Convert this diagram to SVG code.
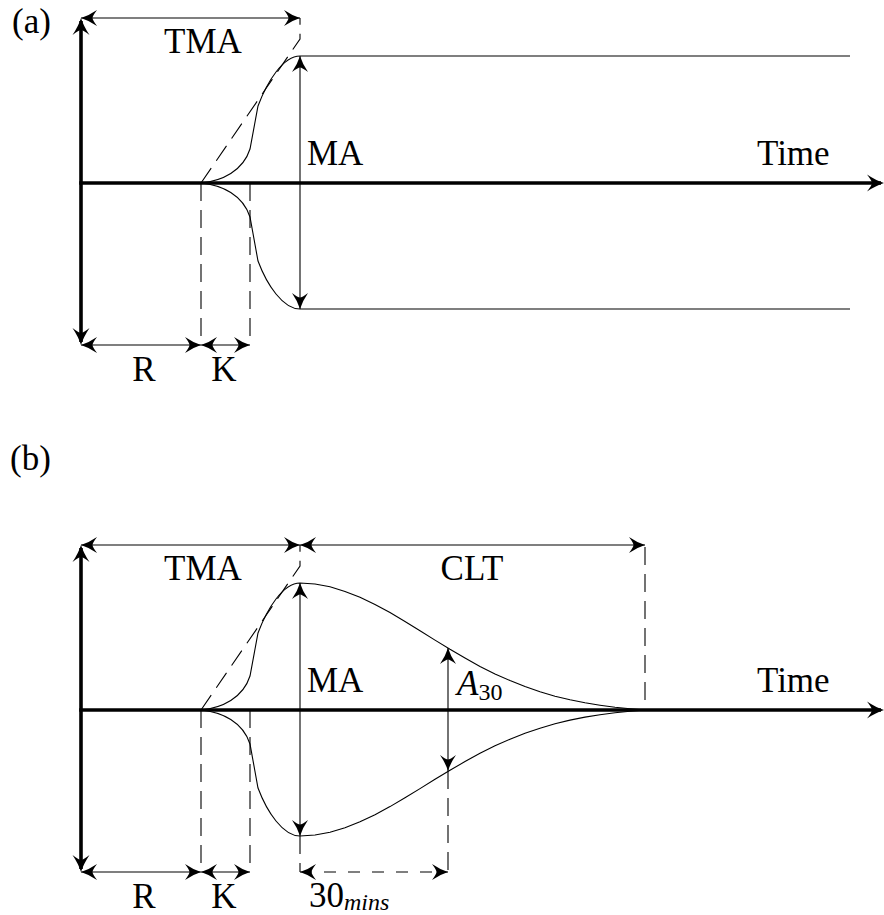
<svg xmlns="http://www.w3.org/2000/svg" width="884" height="915" viewBox="0 0 884 915">
<style>
.thin{fill:none;stroke:#000;stroke-width:1.1}
.thick{fill:none;stroke:#000;stroke-width:3.6}
.dash{fill:none;stroke:#000;stroke-width:1.1;stroke-dasharray:18 9}
.dash2{fill:none;stroke:#000;stroke-width:1.1;stroke-dasharray:12 12}
.arr{marker-start:url(#ah);marker-end:url(#ah)}
.arrT{marker-start:url(#ahT);marker-end:url(#ahT)}
.arrTe{marker-end:url(#ahT)}
text{font-family:'Liberation Serif','DejaVu Serif',serif;font-size:35px;fill:#000}
.mid{text-anchor:middle}
.it{font-style:italic}
.sub{font-size:24px}
</style>
<defs>
<marker id="ah" viewBox="-18 -9 19 18" refX="0" refY="0" markerWidth="19" markerHeight="18" markerUnits="userSpaceOnUse" orient="auto-start-reverse" overflow="visible">
<path d="M0,0 Q-8,-2.5 -16,-8 Q-11.5,-2 -11.5,0 Q-11.5,2 -16,8 Q-8,2.5 0,0 Z" fill="#000"/>
</marker>
<marker id="ahT" viewBox="-18 -9 19 18" refX="-3" refY="0" markerWidth="19" markerHeight="18" markerUnits="userSpaceOnUse" orient="auto-start-reverse" overflow="visible">
<path d="M0,0 Q-8,-2.5 -17,-8.5 Q-12,-2 -12,0 Q-12,2 -17,8.5 Q-8,2.5 0,0 Z" fill="#000"/>
</marker>
</defs>

<g font-family="Liberation Serif, DejaVu Serif, serif">
<text id="label-a" x="12" y="33">(a)</text>
<text id="label-b" x="10" y="470">(b)</text>
</g>

<g id="panel-a" font-family="Liberation Serif, DejaVu Serif, serif">
  <g id="axes-a">
    <line class="thick arrT" x1="81" y1="21" x2="81" y2="342"/>
    <line class="thick arrTe" x1="79.2" y1="183" x2="881" y2="183"/>
  </g>
  <g id="curves-a">
    <path class="thin" d="M201,183 C222,181 243,171 250,149 L258,106 C267,82 283,56 300,56 L850,56"/>
    <path class="thin" d="M201,183 C222,185 243,195 250,217 L258,261 C267,285 283,309 300,309 L850,309"/>
  </g>
  <g id="connectors-a">
    <path class="dash" d="M201,183 L300,39 L300,18"/>
    <line class="dash" x1="201" y1="183" x2="201" y2="345"/>
    <line class="dash" x1="250" y1="183" x2="250" y2="345"/>
    <line class="thin arr" x1="81" y1="18" x2="300" y2="18"/>
    <line class="thin arr" x1="300" y1="56" x2="300" y2="309"/>
    <line class="thin arr" x1="81" y1="345" x2="201" y2="345"/>
    <line class="thin arr" x1="201" y1="345" x2="250" y2="345"/>
  </g>
  <g id="labels-a">
    <text class="mid" x="203" y="53">TMA</text>
    <text x="307" y="165">MA</text>
    <text x="757" y="165">Time</text>
    <text class="mid" x="144" y="381">R</text>
    <text class="mid" x="224" y="381">K</text>
  </g>
</g>

<g id="panel-b" transform="translate(0,527)" font-family="Liberation Serif, DejaVu Serif, serif">
  <g id="axes-b">
    <line class="thick arrT" x1="81" y1="21" x2="81" y2="342"/>
    <line class="thick arrTe" x1="79.2" y1="183" x2="881" y2="183"/>
  </g>
  <g id="curves-b">
    <path class="thin" d="M201,183 C222,181 243,171 250,149 L258,106 C267,82 283,56 300,56 L315,57 L330,59.8 L345,64.4 L360,70.3 L375,77.5 L390,85.6 L405,94.5 L420,103.8 L435,113.1 L450,122.3 L465,131 L480,139.4 L495,146.9 L510,153.6 L525,159.6 L540,164.7 L555,169.2 L570,172.8 L585,175.8 L600,178.2 L615,180.3 L630,181.8 L645,183"/>
    <path class="thin" d="M201,183 C222,185 243,195 250,217 L258,261 C267,285 283,309 300,309 L315,308 L330,305.2 L345,300.7 L360,294.8 L375,287.7 L390,279.6 L405,270.8 L420,261.6 L435,252.3 L450,243.2 L465,234.6 L480,226.3 L495,218.8 L510,212.2 L525,206.2 L540,201.2 L555,196.7 L570,193.1 L585,190.1 L600,187.8 L615,185.7 L630,184.2 L645,183"/>
  </g>
  <g id="connectors-b">
    <path class="dash" d="M201,183 L300,39 L300,18"/>
    <line class="dash" x1="201" y1="183" x2="201" y2="345"/>
    <line class="dash" x1="250" y1="183" x2="250" y2="345"/>
    <line class="dash" x1="645" y1="20" x2="645" y2="183"/>
    <line class="dash" x1="300" y1="309" x2="300" y2="345"/>
    <line class="dash" x1="448" y1="244" x2="448" y2="345"/>
    <line class="thin arr" x1="81" y1="18" x2="300" y2="18"/>
    <line class="thin arr" x1="300" y1="18" x2="645" y2="18"/>
    <line class="thin arr" x1="300" y1="56" x2="300" y2="309"/>
    <line class="thin arr" x1="448" y1="121" x2="448" y2="244"/>
    <line class="thin arr" x1="81" y1="345" x2="201" y2="345"/>
    <line class="thin arr" x1="201" y1="345" x2="250" y2="345"/>
    <line class="dash2 arr" x1="300" y1="345" x2="448" y2="345"/>
  </g>
  <g id="labels-b">
    <text class="mid" x="203" y="53">TMA</text>
    <text class="mid" x="472" y="53">CLT</text>
    <text x="307" y="165">MA</text>
    <text x="457" y="168"><tspan class="it">A</tspan><tspan class="sub" dy="5">30</tspan></text>
    <text x="757" y="165">Time</text>
    <text class="mid" x="144" y="381">R</text>
    <text class="mid" x="224" y="381">K</text>
    <text x="309" y="380">30<tspan class="sub it" dy="3">mins</tspan></text>
  </g>
</g>
</svg>
